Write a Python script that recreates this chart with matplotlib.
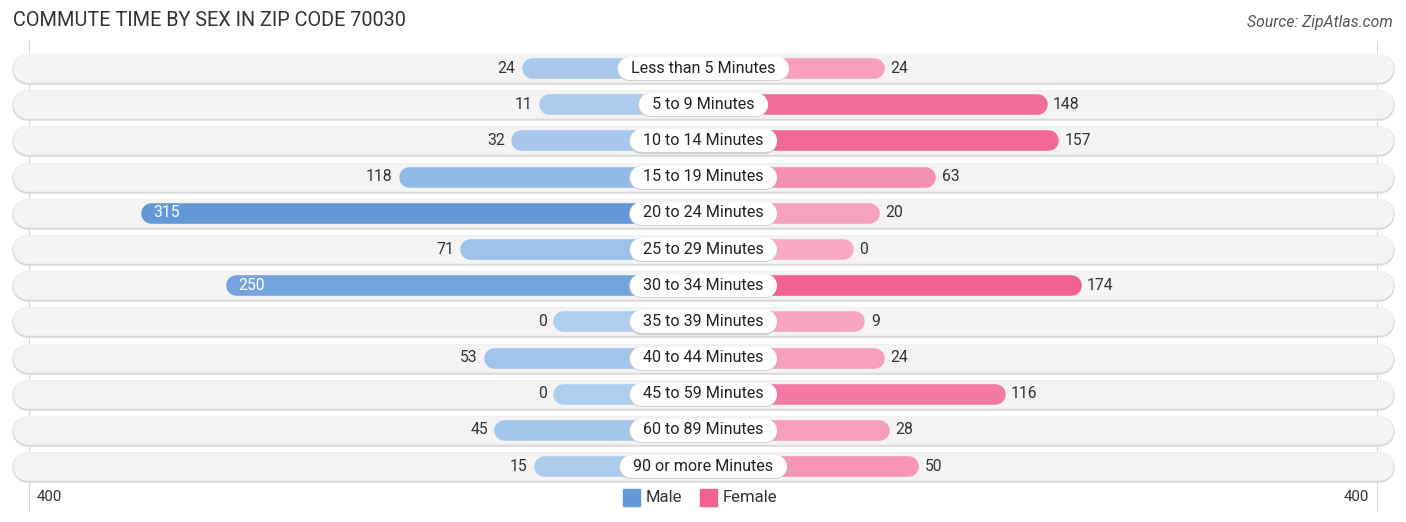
import matplotlib
matplotlib.use("Agg")
import matplotlib.pyplot as plt
import numpy as np
from matplotlib.patches import Rectangle

categories = ["Less than 5 Minutes", "5 to 9 Minutes", "10 to 14 Minutes", "15 to 19 Minutes",
              "20 to 24 Minutes", "25 to 29 Minutes", "30 to 34 Minutes", "35 to 39 Minutes",
              "40 to 44 Minutes", "45 to 59 Minutes", "60 to 89 Minutes", "90 or more Minutes"]
male = [24, 11, 32, 118, 315, 71, 250, 0, 53, 0, 45, 15]
female = [24, 148, 157, 63, 20, 0, 174, 9, 24, 116, 28, 50]
axis_max = 400
title = "COMMUTE TIME BY SEX IN ZIP CODE 70030"
source = "Source: ZipAtlas.com"

W, H, DPI = 1406, 522, 100
plt.rcParams['font.family'] = ['Roboto', 'DejaVu Sans']

fig = plt.figure(figsize=(W / DPI, H / DPI), dpi=DPI)
ax = fig.add_axes([0, 0, 1, 1])
ax.axis('off')

S = 1.31            # px per unit
CX = 703.0          # center pixel
OFF = 150 / S       # base offset of bars (units)
row0, rowstep = 68.0, 36.2
ax.set_xlim(-CX / S, (W - CX) / S)
ax.set_ylim((H - row0) / rowstep, -row0 / rowstep)

def pt(px):
    return px * 72.0 / DPI

def mix(c1, c2, t):
    c1 = np.array(matplotlib.colors.to_rgb(c1)); c2 = np.array(matplotlib.colors.to_rgb(c2))
    return tuple(c1 + (c2 - c1) * t)

m_light, m_dark = "#afcdee", "#6399d9"
f_light, f_dark = "#f8aac3", "#f0628f"
mmax, fmax = max(male), max(female)

track_half = (690.5 - 14.5) / S
bar_cap = 10.3 / S
n = len(categories)
VAL_FS = 11.3

# gridlines at +-400
for sgn in (-1, 1):
    ax.plot([sgn * (OFF + axis_max)] * 2, [-0.75, (497 - row0) / rowstep + 0.38],
            color="#d8d8d8", lw=0.8, zorder=0.5)

for i in range(n):
    # track
    ax.plot([-track_half, track_half], [i + 0.03, i + 0.03], color="#d9d9d9", lw=pt(30.5),
            solid_capstyle='round', zorder=1)
    ax.plot([-track_half, track_half], [i, i], color="#f4f4f4", lw=pt(28.5),
            solid_capstyle='round', zorder=1.1)
    # male bar
    mv = male[i]
    ml = OFF + mv
    ax.plot([-ml + bar_cap, 0], [i, i], color=mix(m_light, m_dark, mv / mmax), lw=pt(20.6),
            solid_capstyle='round', zorder=2)
    fv = female[i]
    fl = OFF + fv
    ax.plot([0, fl - bar_cap], [i, i], color=mix(f_light, f_dark, fv / fmax), lw=pt(20.6),
            solid_capstyle='round', zorder=2)
    # value labels
    if mv > 200:
        ax.text(-ml + 13 / S, i, str(mv), ha='left', va='center', fontsize=VAL_FS,
                color='white', zorder=5)
    else:
        ax.text(-ml - 6 / S, i, str(mv), ha='right', va='center', fontsize=VAL_FS,
                color='#333333', zorder=5)
    if fv > 200:
        ax.text(fl - 13 / S, i, str(fv), ha='right', va='center', fontsize=VAL_FS,
                color='white', zorder=5)
    else:
        ax.text(fl + 6 / S, i, str(fv), ha='left', va='center', fontsize=VAL_FS,
                color='#333333', zorder=5)

# category labels with pill boxes
fig.canvas.draw()
renderer = fig.canvas.get_renderer()
for i, c in enumerate(categories):
    t = ax.text(0, i, c, ha='center', va='center', fontsize=11.6, color='#222222', zorder=7)
    bb = t.get_window_extent(renderer)
    half = (bb.width / 2 + 13.5 - 11.5) / S
    ax.plot([-half, half], [i + 0.035, i + 0.035], color="#d0d0d0", lw=pt(24),
            solid_capstyle='round', zorder=5.5)
    ax.plot([-half, half], [i, i], color="white", lw=pt(23),
            solid_capstyle='round', zorder=6)

# title & source
fig.text(13 / W, 1 - 20 / H, title, ha='left', va='center', fontsize=14.3, color='#333333')
fig.text(1393 / W, 1 - 23 / H, source, ha='right', va='center', fontsize=11.3,
         color='#555555', style='italic')

# axis labels
ly = 1 - 497 / H
fig.text(37 / W, ly, str(axis_max), ha='left', va='center', fontsize=10.8, color='#333333')
fig.text(1369 / W, ly, str(axis_max), ha='right', va='center', fontsize=10.8, color='#333333')

# legend
for x0, col, lab in ((623, "#6399d9", "Male"), (700, "#f0628f", "Female")):
    fig.patches.append(Rectangle((x0 / W, 1 - 506 / H), 17 / W, 17 / H,
                                 transform=fig.transFigure, color=col))
    fig.text((x0 + 23) / W, ly, lab, ha='left', va='center', fontsize=12, color='#333333')

fig.savefig("out.png", dpi=DPI)
